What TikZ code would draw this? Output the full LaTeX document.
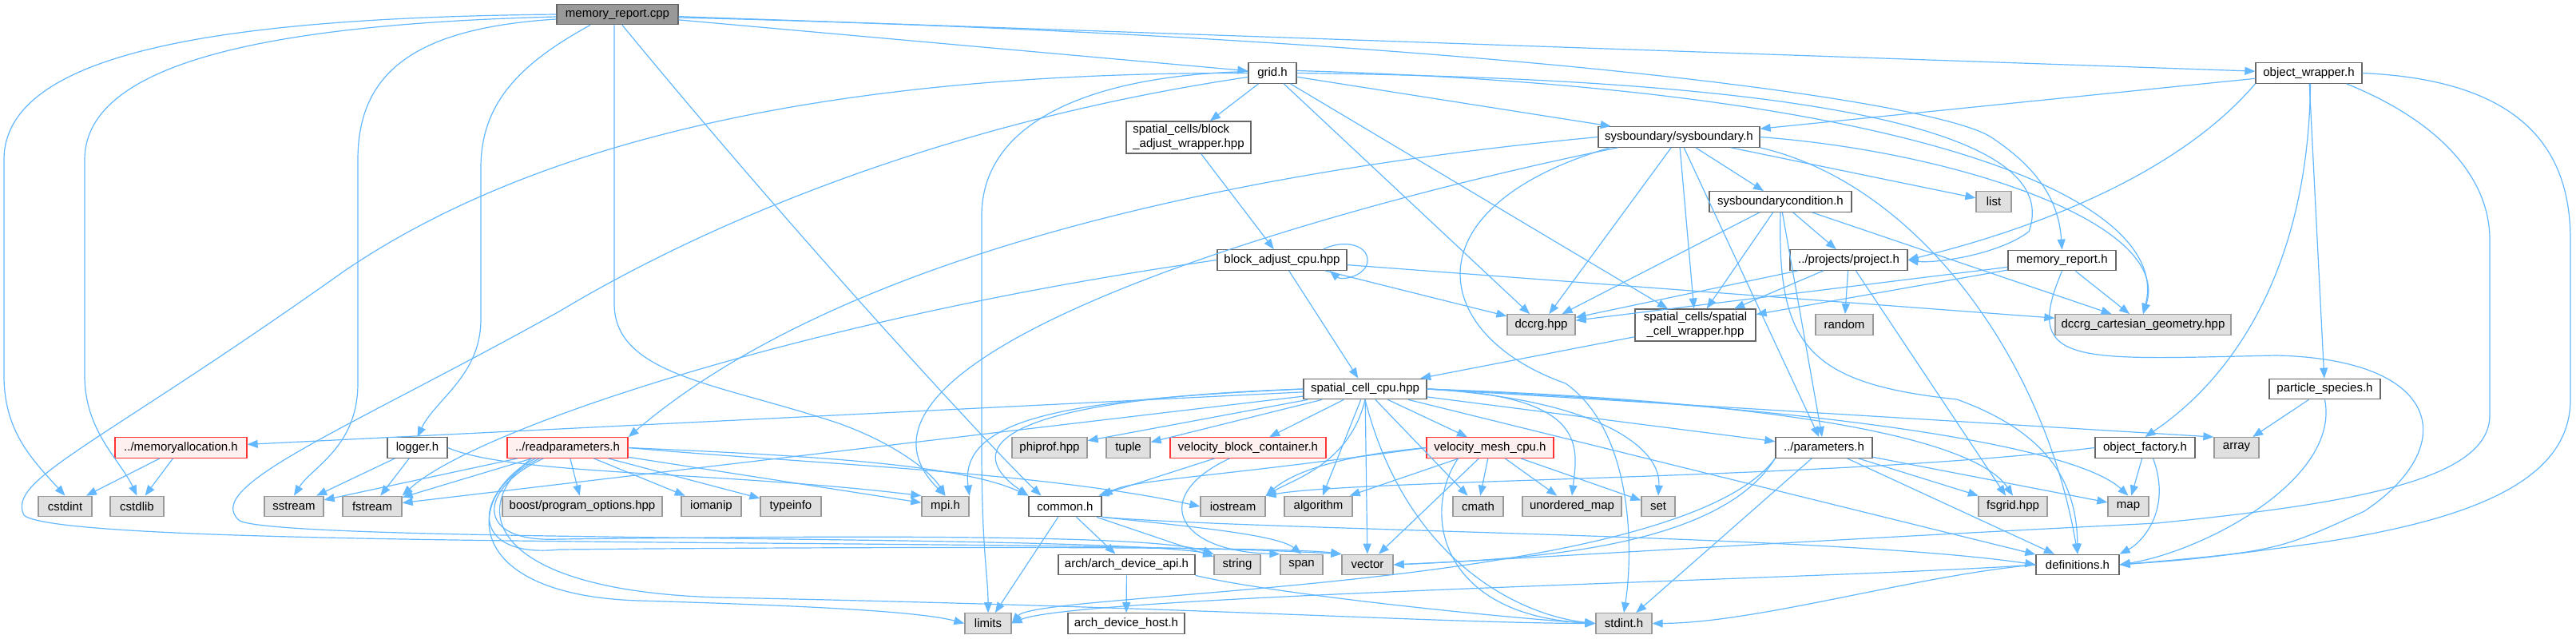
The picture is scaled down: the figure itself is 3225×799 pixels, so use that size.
\documentclass[tikz,border=0pt]{standalone}
\usepackage{fontspec}
\setmainfont{Liberation Sans}
\usetikzlibrary{arrows.meta,calc}
\definecolor{edgec}{HTML}{63B8FF}
\definecolor{bordc}{HTML}{666666}
\definecolor{extb}{HTML}{999999}
\definecolor{extf}{HTML}{E0E0E0}
\definecolor{rootf}{HTML}{999999}
\definecolor{redb}{HTML}{FF3333}
\definecolor{redf}{HTML}{FFF0F0}
\tikzset{
  box/.style={draw=bordc, fill=white, line width=0.65pt, font=\fontsize{7.5}{9}\selectfont,
              inner xsep=1pt, inner ysep=1pt, minimum height=12.75pt, text=black},
  ext/.style={box, draw=extb, fill=extf},
  trunc/.style={box, draw=redb, fill=redf},
  rootnode/.style={box, draw=bordc, fill=rootf},
  two/.style={minimum height=20pt},
  lnk/.style={draw=edgec, line width=0.6pt, -{Triangle[length=6.5pt,width=5pt]}}
}
\begin{document}
\begin{tikzpicture}[x=0.5pt,y=-0.5pt]
\fill[white] (0,0) rectangle (3225,799);
\useasboundingbox (0,0) rectangle (3225,799);

% ---------- nodes ----------
\node[rootnode, minimum width=76pt] (mrcpp) at (773,18) {memory\_report.cpp};
\node[box, minimum width=30pt] (grid) at (1593,91.5) {grid.h};
\node[box, two, minimum width=78pt, align=left] (baw) at (1488,172) {spatial\_cells/block\\\_adjust\_wrapper.hpp};
\node[box, minimum width=101pt] (sysb) at (2102,171.5) {sysboundary/sysboundary.h};
\node[box, minimum width=89pt] (sbc) at (2229,252.5) {sysboundarycondition.h};
\node[box, minimum width=66.5pt] (ow) at (2890.5,91.5) {object\_wrapper.h};
\node[ext, minimum width=22pt] (list) at (2496,252.5) {list};
\node[box, minimum width=81pt] (bac) at (1605,325.5) {block\_adjust\_cpu.hpp};
\node[ext, minimum width=42.5pt] (dccrg) at (1929.5,406.5) {dccrg.hpp};
\node[box, two, minimum width=75.5pt, align=center] (scw) at (2122.5,407) {spatial\_cells/spatial\\\_cell\_wrapper.hpp};
\node[ext, minimum width=36pt] (random) at (2309,406.5) {random};
\node[box, minimum width=73.5pt] (proj) at (2314.5,325.5) {../projects/project.h};
\node[box, minimum width=67.5pt] (mrh) at (2581.5,326) {memory\_report.h};
\node[ext, minimum width=110pt] (dcg) at (2683,406.5) {dccrg\_cartesian\_geometry.hpp};
\node[box, minimum width=77pt] (scc) at (1709,487) {spatial\_cell\_cpu.hpp};
\node[box, minimum width=69.5pt] (ps) at (2910.5,487) {particle\_species.h};

\node[trunc, minimum width=82.5pt] (ma) at (226.5,560.5) {../memoryallocation.h};
\node[box, minimum width=37.5pt] (log) at (522.5,560.5) {logger.h};
\node[trunc, minimum width=75.5pt] (rp) at (710.5,560.5) {../readparameters.h};
\node[ext, minimum width=47pt] (phi) at (1314,560.5) {phiprof.hpp};
\node[ext, minimum width=27.5pt] (tuple) at (1412.5,560.5) {tuple};
\node[trunc, minimum width=97.5pt] (vbc) at (1562.5,560.5) {velocity\_block\_container.h};
\node[trunc, minimum width=79.5pt] (vmc) at (1865.5,560.5) {velocity\_mesh\_cpu.h};
\node[box, minimum width=60.5pt] (par) at (2283.5,560.5) {../parameters.h};
\node[box, minimum width=62.5pt] (of) at (2685.5,560.5) {object\_factory.h};
\node[ext, minimum width=28pt] (array) at (2800,560.5) {array};

\node[ext, minimum width=33.5pt] (cstdint) at (81.5,634) {cstdint};
\node[ext, minimum width=33.5pt] (cstdlib) at (171.5,634) {cstdlib};
\node[ext, minimum width=37pt] (sstream) at (368,634) {sstream};
\node[ext, minimum width=37pt] (fstream) at (466,634) {fstream};
\node[ext, minimum width=100pt] (boost) at (729,634) {boost/program\_options.hpp};
\node[ext, minimum width=37.5pt] (iomanip) at (890.5,634) {iomanip};
\node[ext, minimum width=38pt] (typeinfo) at (990,634) {typeinfo};
\node[ext, minimum width=29.5pt] (mpi) at (1183.5,634) {mpi.h};
\node[box, minimum width=45.5pt] (common) at (1333.5,634) {common.h};
\node[ext, minimum width=40.5pt] (iostream) at (1543.5,634) {iostream};
\node[ext, minimum width=42.5pt] (algorithm) at (1650.5,634) {algorithm};
\node[ext, minimum width=31.5pt] (cmath) at (1850.5,634) {cmath};
\node[ext, minimum width=62pt] (umap) at (1968,634) {unordered\_map};
\node[ext, minimum width=21pt] (set) at (2076,634) {set};
\node[ext, minimum width=43pt] (fsgrid) at (2520,634) {fsgrid.hpp};
\node[ext, minimum width=25.5pt] (map) at (2664.5,634) {map};

\node[box, minimum width=85.5pt] (arch) at (1410.5,707) {arch/arch\_device\_api.h};
\node[ext, minimum width=29pt] (string) at (1549,707) {string};
\node[ext, minimum width=26.5pt] (span) at (1629.5,707) {span};
\node[ext, minimum width=32pt] (vector) at (1712,707) {vector};
\node[box, minimum width=52pt] (defs) at (2601,707) {definitions.h};

\node[ext, minimum width=29pt] (limits) at (1237,780.5) {limits};
\node[box, minimum width=73pt] (adh) at (1410,780.5) {arch\_device\_host.h};
\node[ext, minimum width=35pt] (stdint) at (2033,780.5) {stdint.h};

% ---------- edges: memory_report.cpp ----------
\draw[lnk] (mrcpp.west) .. controls (300,22) and (5,60) .. (5,200) -- (5,470) .. controls (5,540) and (40,575) .. (cstdint.north);
\draw[lnk] ($(mrcpp.west)+(0,3)$) .. controls (350,30) and (106,75) .. (106,200) -- (106,470) .. controls (106,540) and (150,575) .. (cstdlib.north);
\draw[lnk] ($(mrcpp.west)+(0,6)$) .. controls (520,35) and (448,90) .. (448,200) -- (448,480) .. controls (448,560) and (390,585) .. (sstream.north);
\draw[lnk] ($(mrcpp.south)+(-34,0)$) .. controls (650,80) and (602,130) .. (602,210) -- (602,400) .. controls (602,470) and (545,500) .. (log.north);
\draw[lnk] ($(mrcpp.south)+(-4,0)$) -- (769,380) .. controls (769,470) and (900,480) .. (1050,530) .. controls (1120,555) and (1165,590) .. (mpi.north);
\draw[lnk] ($(mrcpp.south)+(6,0)$) .. controls (1000,300) and (1240,560) .. ($(common.north)+(-30,0)$);
\draw[lnk] (mrcpp) -- (grid);
\draw[lnk] (mrcpp) -- (ow);
\draw[lnk] ($(mrcpp.east)+(0,4)$) .. controls (1800,45) and (2400,120) .. (2490,170) .. controls (2560,215) and (2578,260) .. (mrh.north);

% ---------- grid.h ----------
\draw[lnk] (grid) -- (baw);
\draw[lnk] (grid) -- (sysb);
\draw[lnk] (grid) -- (dccrg);
\draw[lnk] (grid) -- (scw);
\draw[lnk] ($(grid.east)+(0,-3)$) .. controls (2400,110) and (2720,250) .. (dcg.north);
\draw[lnk] (grid.east) .. controls (2350,100) and (2580,180) .. (2540,290) .. controls (2500,320) and (2420,330) .. (proj.east);
\draw[lnk] (grid.west) .. controls (1000,90) and (650,190) .. (430,340) .. controls (120,560) and (8,600) .. (30,645) .. controls (80,690) and (1300,672) .. (vector.north west);
\draw[lnk] ($(grid.west)+(0,5)$) .. controls (1200,150) and (900,270) .. (700,390) .. controls (430,540) and (250,610) .. (300,652) .. controls (360,680) and (1350,668) .. (string.north west);
\draw[lnk] ($(grid.west)+(0,-2)$) .. controls (1350,95) and (1229,160) .. (1229,270) -- (1229,560) .. controls (1229,690) and (1237,720) .. (limits.north);

% ---------- block adjust ----------
\draw[lnk] (baw) -- (bac);
\draw[lnk] ($(bac.north east)+(-30,0)$) .. controls (1680,300) and (1712,305) .. (1712,326) .. controls (1712,345) and (1680,352) .. ($(bac.south east)+(-22,0)$);
\draw[lnk] (bac) -- (dccrg);
\draw[lnk] (bac) -- (dcg);
\draw[lnk] (bac) -- (scc);
\draw[lnk] (bac.west) .. controls (1000,400) and (590,540) .. (fstream.north east);
\draw[lnk] (scw) -- (scc);

% ---------- sysboundary.h ----------
\draw[lnk] (sysb) -- (sbc);
\draw[lnk] (sysb) -- (list);
\draw[lnk] (sysb) -- (dccrg);
\draw[lnk] (sysb) -- (scw);
\draw[lnk] (sysb.east) .. controls (2450,190) and (2720,280) .. (dcg.north);
\draw[lnk] (sysb) -- (par);
\draw[lnk] (sysb.west) .. controls (1700,200) and (1100,280) .. (rp.north east);
\draw[lnk] ($(sysb.south west)+(25,0)$) .. controls (1700,250) and (1000,440) .. (mpi.north);
\draw[lnk] (sysb.south east) .. controls (2400,230) and (2560,450) .. (defs.north);
\draw[lnk] ($(sysb.south west)+(15,0)$) .. controls (1760,260) and (1790,420) .. (1960,480) .. controls (2045,540) and (2045,690) .. (stdint.north);

% ---------- sysboundarycondition.h ----------
\draw[lnk] (sbc) -- (proj);
\draw[lnk] (sbc) -- (dccrg);
\draw[lnk] (sbc) -- (scw);
\draw[lnk] (sbc) -- (dcg);
\draw[lnk] (sbc.south) .. controls (2225,430) and (2260,480) .. (2450,500) .. controls (2560,540) and (2600,600) .. (defs.north);
\draw[lnk] (sbc) -- (par);

% ---------- project.h ----------
\draw[lnk] (proj) -- (dccrg);
\draw[lnk] (proj) -- (scw);
\draw[lnk] (proj) -- (random);
\draw[lnk] (proj) -- (fsgrid);

% ---------- memory_report.h ----------
\draw[lnk] (mrh) -- (dccrg);
\draw[lnk] (mrh) -- (scw);
\draw[lnk] (mrh) -- (dcg);
\draw[lnk] (mrh.south) .. controls (2530,460) and (2600,450) .. (2850,445) .. controls (3060,450) and (3080,560) .. (2960,640) .. controls (2850,690) .. (defs.east);

% ---------- object_wrapper.h ----------
\draw[lnk] (ow) -- (sysb);
\draw[lnk] (ow.south west) .. controls (2700,250) and (2450,310) .. (proj.east);
\draw[lnk] ($(ow.south)+(2,0)$) .. controls (2890,330) and (2800,470) .. (of.north);
\draw[lnk] (ow) -- (ps);
\draw[lnk] (ow.east) .. controls (3150,100) and (3218,180) .. (3218,300) -- (3218,500) .. controls (3218,600) and (3100,650) .. (2900,680) .. controls (2750,700) .. (defs.east);
\draw[lnk] ($(ow.south east)+(-20,0)$) .. controls (3050,150) and (3117,220) .. (3117,300) -- (3117,520) .. controls (3117,600) and (2950,630) .. (2700,655) .. controls (2200,680) and (1900,700) .. (vector.east);

% ---------- particle_species.h / object_factory.h ----------
\draw[lnk] (ps) -- (array);
\draw[lnk] (ps.south) .. controls (2930,600) and (2760,690) .. (defs.east);
\draw[lnk] (of) -- (map);
\draw[lnk] ($(of.south)+(10,0)$) .. controls (2720,640) and (2680,680) .. (defs.north east);
\draw[lnk] (of.west) .. controls (2300,600) and (1700,600) .. (iostream.north east);

% ---------- spatial_cell_cpu.hpp ----------
\draw[lnk] (scc) -- (ma);
\draw[lnk] (scc) -- (fstream);
\draw[lnk] (scc) -- (phi);
\draw[lnk] (scc) -- (tuple);
\draw[lnk] (scc) -- (vbc);
\draw[lnk] (scc) -- (vmc);
\draw[lnk] (scc) -- (par);
\draw[lnk] (scc.east) -- (array.north west);
\draw[lnk] (scc) -- (algorithm);
\draw[lnk] (scc) -- (cmath);
\draw[lnk] (scc.east) .. controls (1990,495) and (1975,560) .. (umap.north);
\draw[lnk] (scc.east) .. controls (2000,500) and (2080,560) .. (set.north);
\draw[lnk] (scc.west) .. controls (1350,500) and (1200,520) .. (mpi.north east);
\draw[lnk] (scc.west) .. controls (1250,500) and (1200,560) .. (common.north west);
\draw[lnk] (scc.south) .. controls (1690,580) and (1620,600) .. (iostream.north east);
\draw[lnk] (scc) -- (vector);
\draw[lnk] (scc.south) .. controls (1760,700) and (1900,770) .. (stdint.west);
\draw[lnk] (scc) -- (defs);
\draw[lnk] (scc.east) .. controls (2300,510) and (2600,560) .. (map.north);
\draw[lnk] (scc.east) .. controls (2300,505) and (2480,560) .. (fsgrid.north);

% ---------- velocity containers ----------
\draw[lnk] (vbc) -- (common);
\draw[lnk] ($(vbc.south)+(-23,0)$) .. controls (1440,620) and (1470,690) .. (span.north west);
\draw[lnk] (vmc) -- (algorithm);
\draw[lnk] (vmc) -- (cmath);
\draw[lnk] (vmc) -- (umap);
\draw[lnk] (vmc) -- (set);
\draw[lnk] (vmc) -- (vector);
\draw[lnk] ($(vmc.south)+(-40,0)$) .. controls (1780,640) and (1800,770) .. (stdint.west);
\draw[lnk] (vmc.west) .. controls (1680,570) and (1620,590) .. (iostream.north east);
\draw[lnk] (vmc.west) .. controls (1500,600) and (1420,600) .. (common.north east);

% ---------- parameters.h ----------
\draw[lnk] (par) -- (fsgrid);
\draw[lnk] (par) -- (map);
\draw[lnk] (par) -- (defs);
\draw[lnk] (par) -- (stdint);
\draw[lnk] (par.south west) .. controls (2150,690) and (1900,700) .. (vector.east);
\draw[lnk] (par.south west) .. controls (2100,740) and (1300,740) .. (limits.east);

% ---------- common.h / arch ----------
\draw[lnk] (common.south east) .. controls (1600,665) and (2300,670) .. (defs.west);
\draw[lnk] (common) -- (arch);
\draw[lnk] (common) -- (limits);
\draw[lnk] (common) -- (string);
\draw[lnk] (common.south east) .. controls (1500,660) and (1600,670) .. (span.north);
\draw[lnk] (arch) -- (adh);
\draw[lnk] (arch.south east) .. controls (1600,745) and (1900,775) .. (stdint.west);

% ---------- readparameters.h ----------
\draw[lnk] (rp) -- (boost);
\draw[lnk] (rp) -- (sstream);
\draw[lnk] (rp) -- (fstream);
\draw[lnk] (rp) -- (iomanip);
\draw[lnk] (rp) -- (typeinfo);
\draw[lnk] (rp) -- (mpi);
\draw[lnk] (rp.east) .. controls (1000,570) and (1200,580) .. (common.north west);
\draw[lnk] (rp.east) .. controls (1000,580) and (1300,590) .. (iostream.west);
\draw[lnk] ($(rp.south)+(-30,0)$) .. controls (600,610) and (590,680) .. (700,675) .. controls (1100,670) and (1450,670) .. (string.north west);
\draw[lnk] ($(rp.south)+(-40,0)$) .. controls (580,620) and (575,745) .. (800,752) .. controls (1000,758) and (1150,765) .. (limits.west);
\draw[lnk] ($(rp.south)+(-35,0)$) .. controls (590,615) and (585,700) .. (700,688) .. controls (1000,685) and (1600,683) .. (vector.north west);
\draw[lnk] ($(rp.south)+(-45,0)$) .. controls (580,640) and (620,740) .. (900,748) .. controls (1500,760) and (1800,780) .. (stdint.west);

% ---------- logger.h / memoryallocation.h ----------
\draw[lnk] (log) -- (sstream);
\draw[lnk] (log) -- (fstream);
\draw[lnk] (log.east) .. controls (640,595) and (900,590) .. (mpi.north west);
\draw[lnk] (ma) -- (cstdint);
\draw[lnk] (ma) -- (cstdlib);

% ---------- definitions.h ----------
\draw[lnk] (defs.west) .. controls (2400,720) and (2200,780) .. (stdint.east);
\draw[lnk] (defs.west) .. controls (2300,725) and (1350,745) .. (limits.east);
\end{tikzpicture}
\end{document}
